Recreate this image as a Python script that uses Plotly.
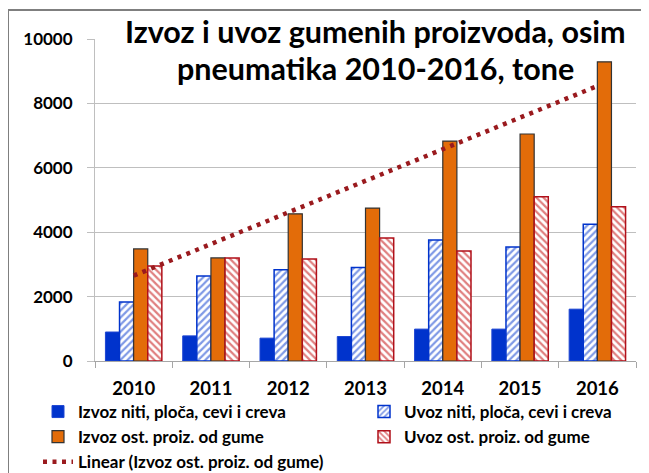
import plotly.graph_objects as go

years = ['2010', '2011', '2012', '2013', '2014', '2015', '2016']

izvoz_niti = [900, 780, 710, 760, 990, 990, 1610]
uvoz_niti = [1830, 2640, 2830, 2900, 3760, 3540, 4250]
izvoz_ost = [3480, 3200, 4570, 4750, 6830, 7050, 9290]
uvoz_ost = [2950, 3200, 3170, 3820, 3420, 5100, 4790]

# linear trend of izvoz_ost, end points
trend_years = ['2010', '2016']
trend_values = [2650, 8540]

y_ticks = [0, 2000, 4000, 6000, 8000, 10000]
y_tick_labels = [str(v) for v in y_ticks]

FONT = 'Lato'
# the html page has an 8px body margin, so the figure is drawn 8px smaller
PAGE = 8
W, H = 649 - PAGE, 473 - PAGE

fig = go.Figure()

# left legend column: izvoz series + trend, right column: uvoz series
fig.add_trace(go.Bar(x=years, y=izvoz_niti,
                     name='Izvoz niti, ploča, cevi i creva',
                     legend='legend', legendrank=1,
                     marker=dict(color='#0033CC', line=dict(color='#1E46D2', width=1))))

fig.add_trace(go.Bar(x=years, y=uvoz_niti,
                     name='Uvoz niti, ploča, cevi i creva',
                     legend='legend2', legendrank=1,
                     marker=dict(color='white',
                                 line=dict(color='#0033CC', width=1.5),
                                 pattern=dict(shape='/', fgcolor='#0033CC', bgcolor='white',
                                              size=5, solidity=0.45))))

fig.add_trace(go.Bar(x=years, y=izvoz_ost,
                     name='Izvoz ost. proiz. od gume',
                     legend='legend', legendrank=2,
                     marker=dict(color='#E36C09', line=dict(color='#333333', width=1.2))))

fig.add_trace(go.Bar(x=years, y=uvoz_ost,
                     name='Uvoz ost. proiz. od gume',
                     legend='legend2', legendrank=2,
                     marker=dict(color='white',
                                 line=dict(color='#B0101A', width=1.5),
                                 pattern=dict(shape='\\', fgcolor='#C00000', bgcolor='white',
                                              size=5, solidity=0.45))))

fig.add_trace(go.Scatter(x=trend_years, y=trend_values,
                         mode='lines',
                         name='Linear (Izvoz ost. proiz. od gume)',
                         legend='legend', legendrank=3,
                         line=dict(color='#9A1A1E', width=4.5, dash='4px,5.5px')))

legend_font = dict(family=FONT, size=17, color='black', weight='bold')

fig.update_layout(
    width=W, height=H,
    margin=dict(l=87, r=13, t=31, b=112, autoexpand=False),
    paper_bgcolor='white',
    plot_bgcolor='white',
    font=dict(family=FONT, color='black'),
    barmode='group',
    bargap=0.27,
    bargroupgap=0,
    legend=dict(orientation='v', xref='container', yref='container',
                x=30 / W, xanchor='left', y=1 - 386 / H, yanchor='top',
                font=legend_font, bgcolor='rgba(0,0,0,0)', traceorder='normal'),
    legend2=dict(orientation='v', xref='container', yref='container',
                 x=356 / W, xanchor='left', y=1 - 386 / H, yanchor='top',
                 font=legend_font, bgcolor='rgba(0,0,0,0)', traceorder='normal'),
    showlegend=True,
)

# two-line title, centred over the plot area
title_lines = ['Izvoz i uvoz gumenih proizvoda, osim', 'pneumatika 2010-2016, tone']
for line, y_px in zip(title_lines, [31, 68]):
    fig.add_annotation(text='<b>' + line + '</b>',
                       xref='paper', yref='paper',
                       x=(375 - 95) / 541, xanchor='center',
                       y=(361 - y_px) / 322, yanchor='middle',
                       showarrow=False,
                       font=dict(family=FONT, size=30.5, color='black'))

fig.update_xaxes(type='category',
                 showgrid=False,
                 showline=True, linecolor='#A6A6A6', linewidth=1,
                 ticks='outside', tickson='boundaries', ticklen=6, tickcolor='#A6A6A6',
                 ticklabelstandoff=11,
                 tickfont=dict(family=FONT, size=18.5, color='black', weight='bold'))

fig.update_yaxes(range=[0, 10000],
                 tickvals=y_ticks, ticktext=y_tick_labels,
                 showgrid=True, gridcolor='#BFBFBF', gridwidth=1,
                 showline=True, linecolor='#BFBFBF', linewidth=1,
                 ticks='outside', ticklen=7, tickcolor='#BFBFBF',
                 ticklabelstandoff=11,
                 zeroline=False,
                 tickfont=dict(family=FONT, size=17, color='black', weight='bold'))

# chart frame (runs past the right and bottom edges like the original)
fig.add_shape(type='rect', xref='paper', yref='paper',
              x0=(8 - 95) / 541, x1=(660 - 95) / 541,
              y0=(361 - 490) / 322, y1=(361 - 10) / 322,
              line=dict(color='#7F7F7F', width=2), layer='below')

fig.write_html('out.html')
